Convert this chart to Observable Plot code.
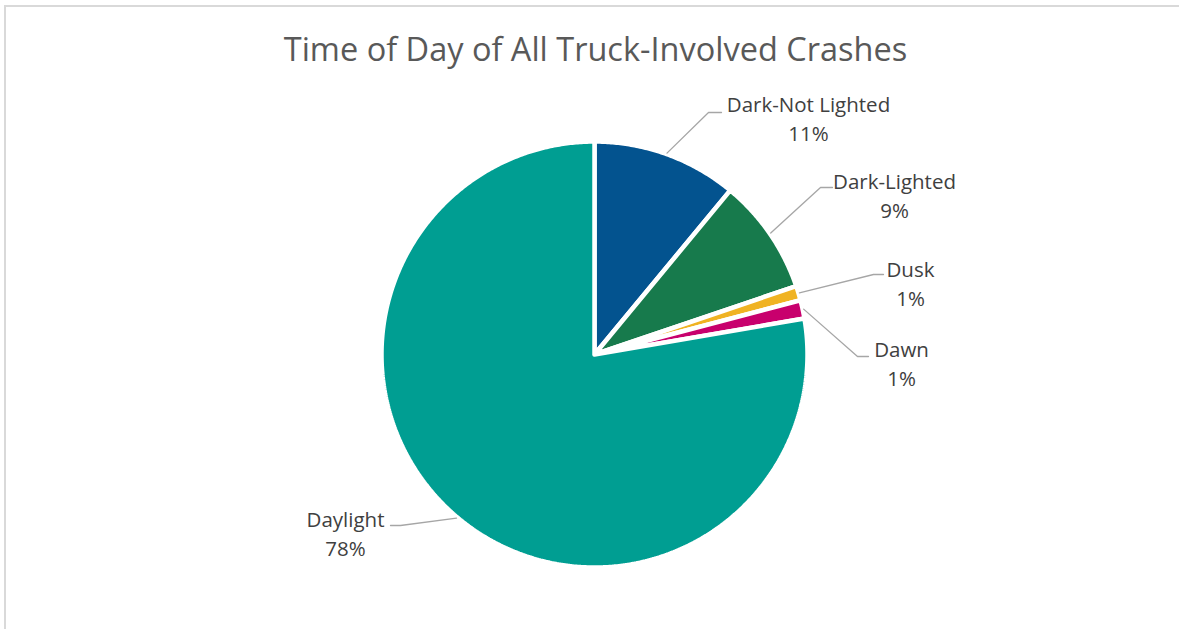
<!DOCTYPE html>
<html>
<head>
<meta charset="utf-8">
<script src="https://cdn.jsdelivr.net/npm/d3@7"></script>
<script src="https://cdn.jsdelivr.net/npm/@observablehq/plot@0.6"></script>
<style>
  html, body { margin: 0; padding: 0; background: #fff; overflow: hidden; width: 1179px; height: 629px; }
  #frame { position: absolute; left: 4px; top: 5px; width: 1190px; height: 640px;
           border-left: 2px solid #d9d9d9; border-top: 2px solid #d9d9d9; box-sizing: border-box; }
  #title { position: absolute; left: 0; top: 0; width: 1179px; height: 90px; text-align: center;
           font-family: "Open Sans", sans-serif; font-size: 32.5px; color: #595959; line-height: 1;
           padding-top: 33px; padding-left: 12px; box-sizing: border-box; }
  #chart { position: absolute; left: 0; top: 90px; }
</style>
</head>
<body>
<div id="frame"></div>
<div id="title">Time of Day of All Truck-Involved Crashes</div>
<div id="chart"></div>
<script>
// ---- data ----
const categories = ["Dark-Not Lighted", "Dark-Lighted", "Dusk", "Dawn", "Daylight"];
const shares = [11.0, 8.8, 1.1, 1.4, 77.7];          // percent of crashes
const pctLabels = ["11%", "9%", "1%", "1%", "78%"];
const colors = ["#03538f", "#177a4c", "#f0b323", "#c8006d", "#009e92"];

// ---- layout (pixels relative to pie centre, y down) ----
const radius = 213;
const labelCenter = [[214, -237], [300, -160], [316, -72], [307, 8], [-249, 178]];
const leaderEnd = [[[114, -242], [127, -242]], [[226, -167], [238, -167]], [[279, -80], [289, -80]],
                   [[263, 2], [274, 2]], [[-194, 171], [-204, 171]]];

// ---- geometry from values ----
const total = d3.sum(shares);
let acc = 0;
const slices = categories.map((c, i) => {
  const a0 = acc / total * 2 * Math.PI;
  acc += shares[i];
  const a1 = acc / total * 2 * Math.PI;
  return {category: c, a0, a1, mid: (a0 + a1) / 2, color: colors[i], pct: pctLabels[i], i};
});
const polar = (a, r) => [r * Math.sin(a), -r * Math.cos(a)];

const slicePts = [];
for (const s of slices) {
  slicePts.push({k: s.category, x: 0, y: 0, color: s.color});
  const n = Math.max(2, Math.ceil((s.a1 - s.a0) / (Math.PI / 360)));
  for (let j = 0; j <= n; j++) {
    const [x, y] = polar(s.a0 + (s.a1 - s.a0) * j / n, radius);
    slicePts.push({k: s.category, x, y, color: s.color});
  }
  slicePts.push({k: s.category, x: 0, y: 0, color: s.color});
}

const leaderPts = [];
for (const s of slices) {
  const [x0, y0] = polar(s.mid, radius + 1);
  leaderPts.push({k: s.category, x: x0, y: y0});
  for (const [x, y] of leaderEnd[s.i]) leaderPts.push({k: s.category, x, y});
}

const labels = slices.map(s => ({
  text: s.category + "\n" + s.pct,
  x: labelCenter[s.i][0], y: labelCenter[s.i][1]
}));

const W = 1179, H = 539, cx = 594, cy = 264;
const plot = Plot.plot({
  width: W, height: H,
  margin: 0,
  x: {domain: [-cx, W - cx], range: [0, W], axis: null},
  y: {domain: [-cy, H - cy], range: [0, H], axis: null},
  style: {background: "transparent", overflow: "visible"},
  marks: [
    Plot.line(slicePts, {x: "x", y: "y", z: "k", fill: d => d.color, stroke: "#fff",
                         strokeWidth: 4.5, strokeLinejoin: "miter", curve: "linear"}),
    Plot.line(leaderPts, {x: "x", y: "y", z: "k", stroke: "#a6a6a6", strokeWidth: 1.3}),
    Plot.text(labels, {x: "x", y: "y", text: "text", fill: "#404040", fontSize: 20.5,
                       lineHeight: 1.42, textAnchor: "middle",
                       fontFamily: "'Open Sans', sans-serif"})
  ]
});
document.getElementById("chart").appendChild(plot);
</script>
</body>
</html>
